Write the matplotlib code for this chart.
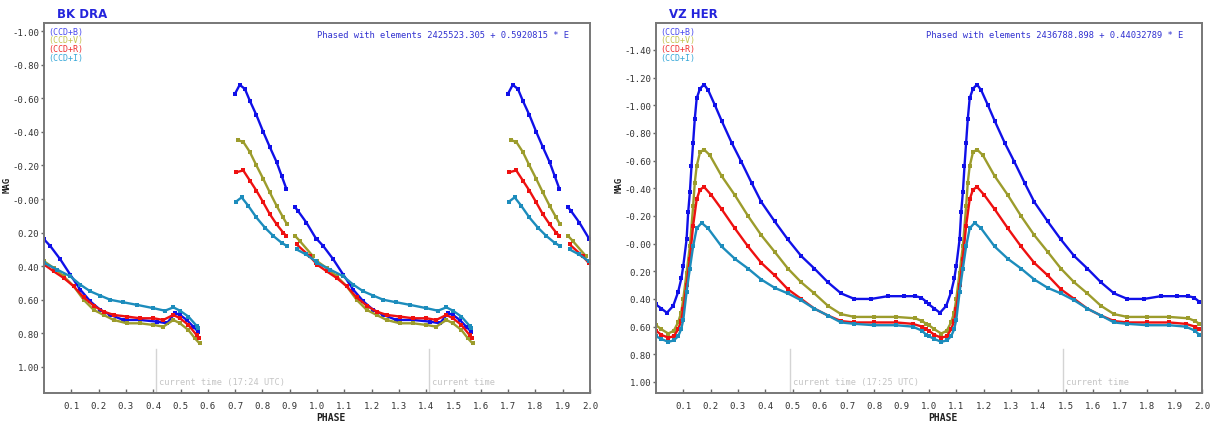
import numpy as np
import matplotlib
matplotlib.use("Agg")
import matplotlib.pyplot as plt

nan = float("nan")

# BK DRA, phase 0..1 readings per band (nan marks gaps in coverage)
bk_b_phase = [0.0, 0.023, 0.06, 0.096, 0.133, 0.17, 0.206, 0.243, 0.291, 0.352, 0.413, 0.45, 0.48, 0.498, 0.523, 0.547, 0.565,
              nan, 0.699, 0.717, 0.736, 0.754, 0.778, 0.803, 0.827, 0.852, 0.87, 0.888, nan, 0.92, 0.93, 0.961, 0.998]
bk_b_mag = [0.24, 0.28, 0.36, 0.45, 0.54, 0.61, 0.66, 0.69, 0.72, 0.72, 0.73, 0.74, 0.68, 0.69, 0.72, 0.76, 0.79,
            nan, -0.625, -0.68, -0.655, -0.585, -0.50, -0.40, -0.31, -0.22, -0.14, -0.06, nan, 0.05, 0.07, 0.14, 0.24]

bk_v_phase = [0.0, 0.035, 0.072, 0.109, 0.145, 0.182, 0.218, 0.255, 0.304, 0.352, 0.401, 0.437, 0.474, 0.498, 0.529, 0.553, 0.57,
              nan, 0.711, 0.73, 0.754, 0.778, 0.803, 0.827, 0.852, 0.876, 0.89, nan, 0.92, 0.937, 0.985]
bk_v_mag = [0.37, 0.41, 0.46, 0.52, 0.60, 0.66, 0.69, 0.72, 0.74, 0.74, 0.75, 0.76, 0.72, 0.74, 0.78, 0.83, 0.86,
            nan, -0.35, -0.34, -0.28, -0.20, -0.12, -0.04, 0.04, 0.11, 0.15, nan, 0.22, 0.25, 0.34]

bk_r_phase = [0.0, 0.035, 0.072, 0.109, 0.145, 0.182, 0.218, 0.255, 0.304, 0.352, 0.401, 0.437, 0.474, 0.498, 0.529, 0.559, 0.568,
              nan, 0.705, 0.73, 0.754, 0.778, 0.803, 0.827, 0.852, 0.876, 0.888, nan, 0.925, 0.973, 0.995]
bk_r_mag = [0.39, 0.43, 0.47, 0.52, 0.585, 0.635, 0.67, 0.69, 0.70, 0.71, 0.71, 0.72, 0.69, 0.71, 0.75, 0.81, 0.83,
            nan, -0.16, -0.17, -0.11, -0.05, 0.02, 0.09, 0.15, 0.20, 0.22, nan, 0.27, 0.34, 0.38]

bk_i_phase = [0.0, 0.048, 0.096, 0.133, 0.17, 0.206, 0.243, 0.291, 0.34, 0.401, 0.443, 0.474, 0.498, 0.529, 0.559, 0.565,
              nan, 0.703, 0.724, 0.748, 0.778, 0.809, 0.84, 0.87, 0.89, nan, 0.925, 0.96, 0.995]
bk_i_mag = [0.38, 0.42, 0.46, 0.51, 0.55, 0.575, 0.60, 0.615, 0.63, 0.65, 0.665, 0.645, 0.665, 0.70, 0.755, 0.77,
            nan, 0.016, -0.01, 0.04, 0.11, 0.17, 0.22, 0.26, 0.28, nan, 0.30, 0.33, 0.37]

# VZ HER
vz_b_phase = [0.0, 0.02, 0.04, 0.063, 0.081, 0.093, 0.10, 0.112, 0.118, 0.124, 0.130, 0.136, 0.142, 0.149, 0.161, 0.176,
              0.191, 0.216, 0.24, 0.277, 0.313, 0.35, 0.386, 0.435, 0.483, 0.532, 0.58, 0.63, 0.678, 0.727, 0.788,
              0.849, 0.91, 0.95, 0.971, 0.99]
vz_b_mag = [0.44, 0.47, 0.50, 0.45, 0.35, 0.25, 0.16, -0.03, -0.23, -0.37, -0.56, -0.73, -0.90, -1.05, -1.12, -1.15,
            -1.11, -1.00, -0.89, -0.73, -0.59, -0.44, -0.30, -0.16, -0.03, 0.09, 0.18, 0.28, 0.36, 0.40, 0.40,
            0.38, 0.38, 0.38, 0.39, 0.42]

vz_v_phase = [0.0, 0.02, 0.045, 0.065, 0.081, 0.092, 0.10, 0.112, 0.124, 0.136, 0.142, 0.149, 0.161, 0.176, 0.197, 0.24,
              0.289, 0.337, 0.386, 0.435, 0.483, 0.532, 0.58, 0.63, 0.678, 0.727, 0.80, 0.88, 0.95, 0.975, 0.99]
vz_v_mag = [0.59, 0.62, 0.65, 0.63, 0.57, 0.50, 0.40, 0.21, 0.02, -0.27, -0.44, -0.56, -0.66, -0.68, -0.64, -0.49,
            -0.35, -0.20, -0.06, 0.06, 0.18, 0.28, 0.36, 0.45, 0.51, 0.53, 0.53, 0.53, 0.54, 0.56, 0.58]

vz_r_phase = [0.0, 0.02, 0.045, 0.065, 0.081, 0.092, 0.10, 0.112, 0.124, 0.136, 0.149, 0.161, 0.176, 0.203, 0.24, 0.289,
              0.337, 0.386, 0.435, 0.483, 0.532, 0.58, 0.63, 0.678, 0.727, 0.80, 0.88, 0.94, 0.975, 0.99]
vz_r_mag = [0.63, 0.66, 0.68, 0.67, 0.62, 0.56, 0.47, 0.30, 0.11, -0.13, -0.32, -0.39, -0.41, -0.35, -0.25, -0.11,
            0.02, 0.14, 0.23, 0.33, 0.40, 0.47, 0.52, 0.56, 0.57, 0.57, 0.57, 0.58, 0.60, 0.62]

vz_i_phase = [0.0, 0.02, 0.045, 0.065, 0.081, 0.092, 0.10, 0.112, 0.124, 0.136, 0.149, 0.167, 0.191, 0.24, 0.289, 0.337,
              0.386, 0.435, 0.483, 0.532, 0.58, 0.63, 0.678, 0.727, 0.80, 0.88, 0.94, 0.975, 0.99]
vz_i_mag = [0.67, 0.69, 0.71, 0.70, 0.67, 0.62, 0.55, 0.35, 0.18, 0.02, -0.11, -0.15, -0.11, 0.02, 0.11, 0.18,
            0.26, 0.32, 0.36, 0.41, 0.47, 0.52, 0.57, 0.58, 0.59, 0.59, 0.60, 0.63, 0.66]

bands = ["(CCD+B)", "(CCD+V)", "(CCD+R)", "(CCD+I)"]
band_colors = ["#1010e8", "#9c9c2c", "#ee1010", "#1c8cbc"]
label_colors = ["#4848f0", "#c4c450", "#f03030", "#38a8d8"]

stars = ["BK DRA", "VZ HER"]
elements = ["Phased with elements 2425523.305 + 0.5920815 * E",
            "Phased with elements 2436788.898 + 0.44032789 * E"]
now_phase = [0.41, 0.49]
now_label = ["current time (17:24 UTC)", "current time (17:25 UTC)"]

bk_ticks = [-1.0, -0.8, -0.6, -0.4, -0.2, 0.0, 0.2, 0.4, 0.6, 0.8, 1.0]
vz_ticks = [-1.4, -1.2, -1.0, -0.8, -0.6, -0.4, -0.2, 0.0, 0.2, 0.4, 0.6, 0.8, 1.0]
x_ticks = [0.1, 0.2, 0.3, 0.4, 0.5, 0.6, 0.7, 0.8, 0.9, 1.0, 1.1, 1.2, 1.3, 1.4, 1.5, 1.6, 1.7, 1.8, 1.9, 2.0]

W, H = 1214, 427
mono = "DejaVu Sans Mono"


def fx(px):
    return px / W


def fy(py):
    return 1 - py / H


def ylab(v):
    return "-0.00" if v == 0 else f"{v:.2f}"


def draw_panel(ax, series, ylim, yticks):
    for (ph, mag), c in zip(series, band_colors):
        ph = np.array(ph)
        mag = np.array(mag)
        # phased data is shown twice: phase and phase + 1
        x = np.concatenate([ph, [nan], ph + 1])
        y = np.concatenate([mag, [nan], mag])
        ax.plot(x, y, color=c, lw=1.7, marker="s", ms=3.0, mew=0)
    ax.set_xlim(0, 2.0)
    ax.set_ylim(*ylim)
    ax.set_xticks(x_ticks)
    ax.set_xticklabels([f"{t:.1f}" for t in x_ticks], fontfamily=mono, fontsize=6.5, color="#333333")
    ax.set_yticks(yticks)
    ax.set_yticklabels([ylab(t) for t in yticks], fontfamily=mono, fontsize=6.5, color="#333333")
    ax.tick_params(axis="x", direction="in", length=3, width=1, color="#666666", pad=6)
    ax.tick_params(axis="y", direction="out", length=2.5, width=1, color="#666666", pad=1)
    for sp in ax.spines.values():
        sp.set_color("#777777")
        sp.set_linewidth(1.4)


fig = plt.figure(figsize=(W / 100, H / 100), dpi=100)
ax1 = fig.add_axes([fx(44), fy(394), fx(546), 370 / H])
ax2 = fig.add_axes([fx(656), fy(394), fx(546), 370 / H])

draw_panel(ax1, [(bk_b_phase, bk_b_mag), (bk_v_phase, bk_v_mag), (bk_r_phase, bk_r_mag), (bk_i_phase, bk_i_mag)],
           (1.155, -1.048), bk_ticks)
draw_panel(ax2, [(vz_b_phase, vz_b_mag), (vz_v_phase, vz_v_mag), (vz_r_phase, vz_r_mag), (vz_i_phase, vz_i_mag)],
           (1.08, -1.595), vz_ticks)

for k, ax in enumerate([ax1, ax2]):
    left = [44, 656][k]
    right = [590, 1202][k]
    fig.text(fx(left + 13), fy(14), stars[k], color="#2424dc", fontsize=8.5, fontweight="bold", va="center")
    for j, name in enumerate(bands):
        fig.text(fx(left + 4), fy(32 + 8.8 * j), name, color=label_colors[j], fontfamily=mono, fontsize=6,
                 va="center")
    fig.text(fx(left + 399), fy(35), elements[k], color="#3030d0", fontfamily=mono, fontsize=6.3,
             ha="center", va="center")
    fig.text(fx((left + right) / 2 + 14), fy(418), "PHASE", fontfamily=mono, fontweight="bold", fontsize=7,
             ha="center", va="center", color="#222222")
    fig.text(fx(left - 37), fy(185), "MAG", fontfamily=mono, fontweight="bold", fontsize=6.5, rotation=90,
             ha="center", va="center", color="#222222")
    # current time markers in both phase cycles
    for cyc in (0, 1):
        p = now_phase[k] + cyc
        ax.axvline(p, ymin=0, ymax=44 / 370, color="#d4d4d4", lw=1)
        ax.text(p + 0.012, 0.03, now_label[k] if cyc == 0 else "current time", transform=ax.get_xaxis_transform(),
                fontfamily=mono, fontsize=6.2, color="#c4c4c4", va="center")

fig.savefig("out.png", dpi=100)
